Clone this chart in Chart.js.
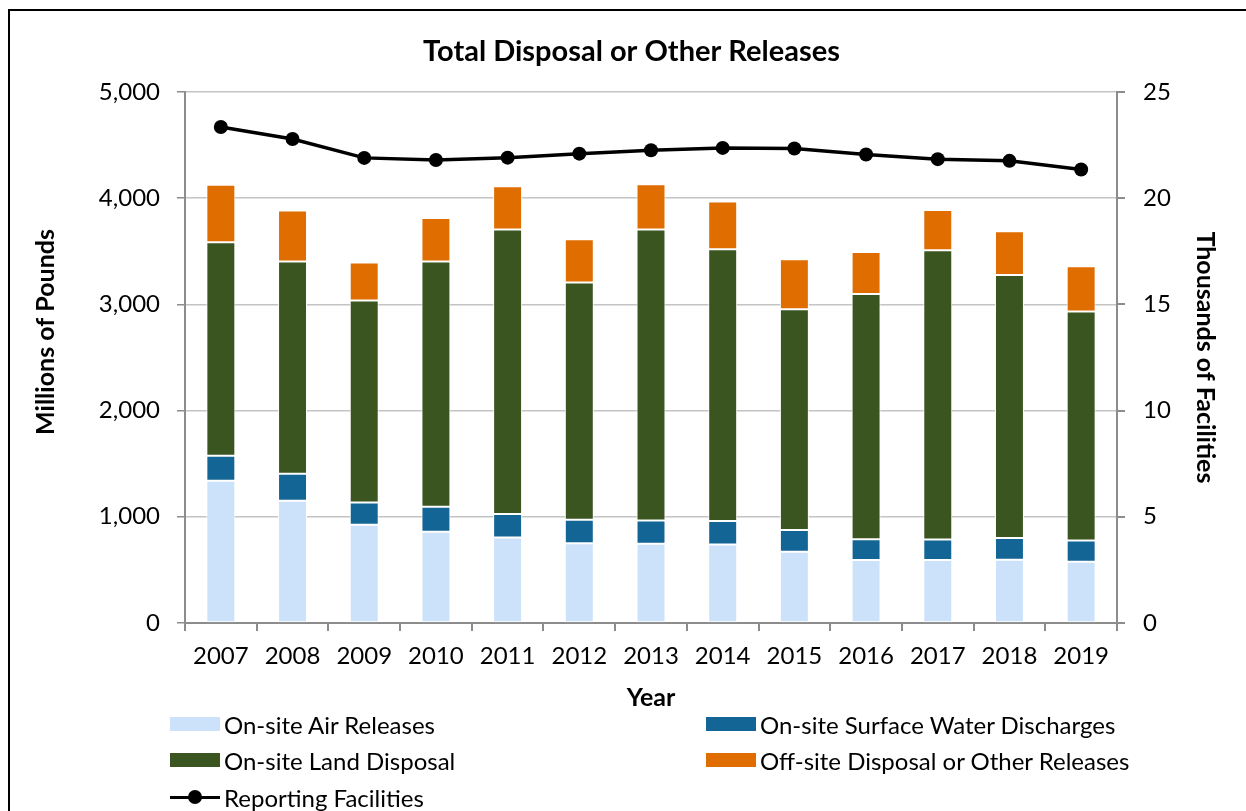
<!DOCTYPE html>
<html>
<head>
<meta charset="utf-8">
<script src="https://cdn.jsdelivr.net/npm/chart.js@4.4.0/dist/chart.umd.min.js"></script>
<style>
  html, body { margin: 0; padding: 0; background: #fff; overflow: hidden; width: 1246px; height: 811px; }
  #wrap { position: relative; width: 1246px; height: 811px; }
  #c { position: absolute; left: 0; top: 0; }
  #frame { position: absolute; left: 8px; top: 9px; width: 1400px; height: 1000px; border: 2.5px solid #000; pointer-events: none; }
  #legend { position: absolute; left: 0; top: 0; width: 1246px; height: 811px; pointer-events: none; font-family: Lato, "Open Sans", sans-serif; font-size: 24px; color: #000; }
  .item { position: absolute; height: 30px; display: flex; align-items: center; white-space: nowrap; }
  .sw { width: 50px; height: 14px; margin-right: 4px; box-sizing: border-box; }
  .ln { width: 50px; height: 14px; margin-right: 4px; position: relative; }
  .ln::before { content: ""; position: absolute; left: 0; right: 0; top: 5.5px; height: 3.5px; background: #000; }
  .ln::after { content: ""; position: absolute; left: 18px; top: 0px; width: 14px; height: 14px; border-radius: 50%; background: #000; }
</style>
</head>
<body>
<div id="wrap">
  <canvas id="c" width="1246" height="811"></canvas>
  <div id="legend"></div>
  <div id="frame"></div>
</div>
<script>
const years = ["2007","2008","2009","2010","2011","2012","2013","2014","2015","2016","2017","2018","2019"];
const airReleases   = [1340, 1150, 925, 860, 805, 750, 747, 738, 670, 592, 592, 595, 577];
const waterDischarges = [234, 254, 209, 234, 222, 221, 217, 223, 205, 197, 194, 204, 200];
const landDisposal  = [2010, 1998, 1901, 2308, 2676, 2234, 2739, 2557, 2079, 2308, 2723, 2477, 2155];
const offsiteReleases = [542, 480, 358, 410, 408, 407, 426, 449, 470, 396, 379, 411, 426];
const reportingFacilities = [23.34, 22.78, 21.89, 21.79, 21.90, 22.09, 22.25, 22.36, 22.33, 22.05, 21.83, 21.75, 21.34];
const leftTicks = [0, 1000, 2000, 3000, 4000, 5000];
const rightTicks = [0, 5, 10, 15, 20, 25];

const FONT = 'Lato, "Open Sans", sans-serif';
const AXIS = '#8c8c8c';
const TICK_SIZE = 24;
const AXTITLE_SIZE = 25;

const barCommon = { stack: 's', yAxisID: 'y', borderColor: '#ffffff', borderWidth: 1, borderSkipped: false, categoryPercentage: 1.0, barPercentage: 0.404, order: 1 };

const datasets = [
  Object.assign({ type: 'bar', label: 'On-site Air Releases', data: airReleases, backgroundColor: '#cce2fa' }, barCommon),
  Object.assign({ type: 'bar', label: 'On-site Surface Water Discharges', data: waterDischarges, backgroundColor: '#136595' }, barCommon),
  Object.assign({ type: 'bar', label: 'On-site Land Disposal', data: landDisposal, backgroundColor: '#3a5520' }, barCommon),
  Object.assign({ type: 'bar', label: 'Off-site Disposal or Other Releases', data: offsiteReleases, backgroundColor: '#df6d00' }, barCommon),
  { type: 'line', label: 'Reporting Facilities', data: reportingFacilities, yAxisID: 'y1', borderColor: '#000', backgroundColor: '#000', borderWidth: 3.5, pointRadius: 7, pointBackgroundColor: '#000', pointBorderWidth: 0, tension: 0, order: 0 }
];

// Left axis title drawn slightly above plot centre, as in the reference
const leftTitlePlugin = {
  id: 'leftTitle',
  afterDraw(chart) {
    const ctx = chart.ctx;
    ctx.save();
    ctx.translate(46, 332);
    ctx.rotate(-Math.PI / 2);
    ctx.font = 'bold ' + AXTITLE_SIZE + 'px ' + FONT;
    ctx.fillStyle = '#000';
    ctx.textAlign = 'center';
    ctx.textBaseline = 'middle';
    ctx.fillText('Millions of Pounds', 0, 0);
    ctx.restore();
  }
};

new Chart(document.getElementById('c'), {
  data: { labels: years, datasets: datasets },
  plugins: [leftTitlePlugin],
  options: {
    responsive: false,
    animation: false,
    layout: { padding: { left: 33, right: 16, top: 0, bottom: 93 } },
    plugins: {
      legend: { display: false },
      tooltip: { enabled: false },
      title: { display: true, text: 'Total Disposal or Other Releases', color: '#000', font: { family: FONT, size: 29, weight: 'bold' }, padding: { top: 34, bottom: 23 } }
    },
    scales: {
      x: {
        stacked: true,
        grid: { offset: true, drawOnChartArea: false, tickLength: 8, color: AXIS, lineWidth: 2 },
        border: { color: AXIS, width: 2 },
        ticks: { color: '#000', font: { family: FONT, size: TICK_SIZE }, padding: 11 },
        title: { display: true, text: 'Year', color: '#000', font: { family: FONT, size: AXTITLE_SIZE, weight: 'bold' }, padding: { top: 0, bottom: 5 } },
        afterFit: s => { s.height = 95; }
      },
      y: {
        stacked: true, position: 'left', min: 0, max: 5000,
        afterBuildTicks: s => { s.ticks = leftTicks.map(v => ({ value: v })); },
        grid: { color: '#c4c4c4', lineWidth: 1.5, tickColor: AXIS, tickLength: 8 },
        border: { color: AXIS, width: 2 },
        ticks: { color: '#000', font: { family: FONT, size: TICK_SIZE }, padding: 17, callback: v => v.toLocaleString('en-US') },
        title: { display: false, text: 'Millions of Pounds' },
        afterFit: s => { s.width = 152; }
      },
      y1: {
        position: 'right', min: 0, max: 25,
        afterBuildTicks: s => { s.ticks = rightTicks.map(v => ({ value: v })); },
        grid: { drawOnChartArea: false, tickColor: AXIS, tickLength: 8, lineWidth: 2 },
        border: { color: AXIS, width: 2 },
        ticks: { color: '#000', font: { family: FONT, size: TICK_SIZE }, padding: 18 },
        title: { display: true, text: 'Thousands of Facilities', color: '#000', font: { family: FONT, size: AXTITLE_SIZE, weight: 'bold' }, padding: { top: 10, bottom: 0 } },
        afterFit: s => { s.width = 113; }
      }
    }
  }
});

// HTML legend built from the datasets
const legendPos = [
  { left: 170, top: 709 }, { left: 706, top: 709 },
  { left: 170, top: 745 }, { left: 706, top: 745 },
  { left: 170, top: 782 }
];
const lg = document.getElementById('legend');
datasets.forEach((ds, i) => {
  const el = document.createElement('div');
  el.className = 'item';
  el.style.left = legendPos[i].left + 'px';
  el.style.top = legendPos[i].top + 'px';
  const mark = document.createElement('span');
  if (ds.type === 'line') { mark.className = 'ln'; }
  else { mark.className = 'sw'; mark.style.background = ds.backgroundColor; }
  const txt = document.createElement('span');
  txt.textContent = ds.label;
  el.appendChild(mark); el.appendChild(txt);
  lg.appendChild(el);
});
</script>
</body>
</html>
